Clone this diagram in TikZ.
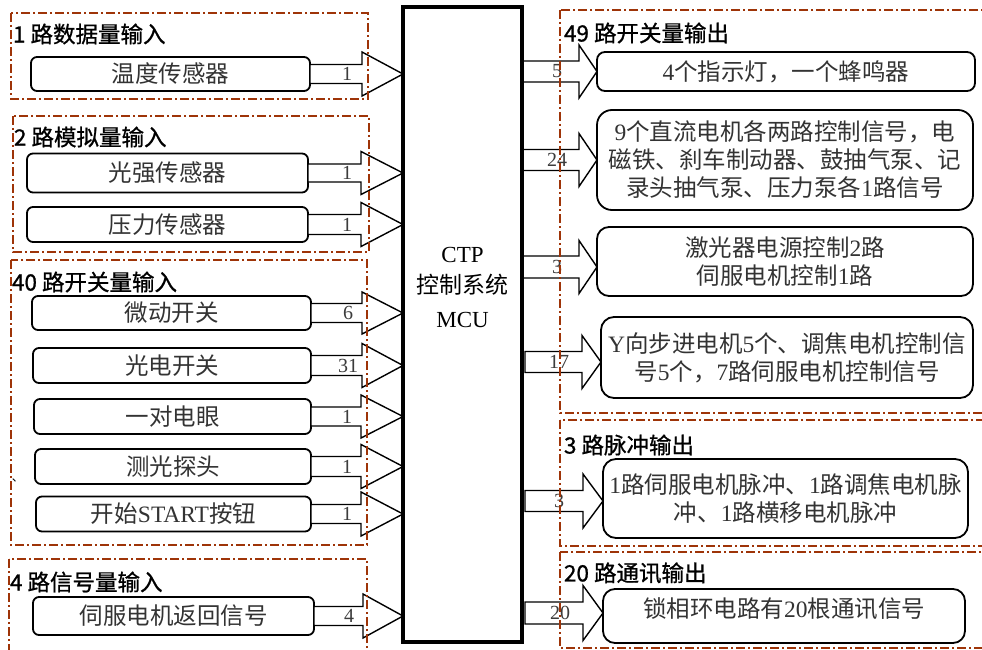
\documentclass[tikz,border=0pt]{standalone}
\usepackage{fontspec}
\setmainfont{Noto Sans CJK SC}
\newfontfamily\hei[FakeBold=0.9]{Noto Sans CJK SC}
\newfontfamily\tm{Liberation Serif}
\usetikzlibrary{calc}
\definecolor{grp}{RGB}{158,52,8}
\definecolor{lblc}{RGB}{60,60,60}
\newcommand\T[1]{{\tm #1}}
\newcommand\blk[8]{%
  \draw[blkarrow] let \p1=#1, \p2=#2 in
    (\x1,\y2+#3) -- (\x2-#5,\y2+#3) -- (\x2-#5,\y2+#4) -- (\x2,\y2)
    -- (\x2-#5,\y2-#4) -- (\x2-#5,\y2-#3) -- (\x1,\y2-#3) -- cycle
    (\x2-#6,\y2) node[lbl] (#7) {#8};}
\begin{document}
\begin{tikzpicture}[x=1pt,y=-1pt,
  every node/.style={outer sep=0pt},
  grpbox/.style={draw=grp, line width=1.6pt, dash pattern=on 9pt off 3pt on 2pt off 3pt},
  ttl/.style={anchor=west, inner sep=0pt, font=\hei\fontsize{22.5}{24}\selectfont},
  inbox/.style={draw, line width=1.8pt, rounded corners=6pt, inner sep=0pt,
    font=\fontsize{23.5}{28}\selectfont, text=black!80, align=center},
  outbox/.style={inbox, rounded corners=12pt},
  blkarrow/.style={draw, line width=1.4pt, fill=white, line join=miter},
  lbl/.style={inner sep=0pt, font=\tm\fontsize{20}{20}\selectfont, text=lblc},
  mculine/.style={draw, line width=3.5pt}
]
\clip (0,0) rectangle (982,650);
\fill[white] (0,0) rectangle (982,650);

% central controller (outline drawn later, over the arrow tips)
\node[minimum width=119, minimum height=635, inner sep=0pt] (mcu) at (462.5,324.5) {};

% input boxes
\node[inbox, minimum width=279, minimum height=34] (t1) at (170.5,74) {温度传感器};
\node[inbox, minimum width=281, minimum height=39] (t2) at (167.5,173) {光强传感器};
\node[inbox, minimum width=281, minimum height=35] (t3) at (167.5,224.5) {压力传感器};
\node[inbox, minimum width=279, minimum height=34] (t4) at (171.5,313) {微动开关};
\node[inbox, minimum width=278, minimum height=35] (t5) at (172,365.5) {光电开关};
\node[inbox, minimum width=277, minimum height=35] (t6) at (172.5,416.5) {一对电眼};
\node[inbox, minimum width=276, minimum height=35] (t7) at (173,466.5) {测光探头};
\node[inbox, minimum width=275, minimum height=35] (t8) at (173.5,514) {开始\T{START}按钮};
\node[inbox, minimum width=281, minimum height=38] (t9) at (173.5,616) {伺服电机返回信号};

% output boxes
\node[outbox, rounded corners=8pt, minimum width=378, minimum height=39] (r1) at (786,71.5) {\T{4}个指示灯，一个蜂鸣器};
\node[outbox, rounded corners=15pt, minimum width=376, minimum height=100] (r2) at (785,160)
  {\T{9}个直流电机各两路控制信号，电\\磁铁、刹车制动器、鼓抽气泵、记\\录头抽气泵、压力泵各\T{1}路信号};
\node[outbox, minimum width=376, minimum height=69] (r3) at (785,261.5)
  {\raisebox{-2pt}[0.8em][0.2em]{激光器电源控制\T{2}路}\\\raisebox{-2pt}[0.8em][0.2em]{伺服电机控制\T{1}路}};
\node[outbox, rounded corners=13pt, minimum width=372, minimum height=81] (r4) at (787,357.5)
  {\T{Y}向步进电机\T{5}个、调焦电机控制信\\号\T{5}个，\T{7}路伺服电机控制信号};
\node[outbox, rounded corners=13pt, minimum width=365, minimum height=79] (r5) at (785.5,498.5)
  {\T{1}路伺服电机脉冲、\T{1}路调焦电机脉\\冲、\T{1}路横移电机脉冲};
\node[outbox, minimum width=362, minimum height=54] (r6) at (784,616)
  {\raisebox{6pt}[0.8em][0.2em]{锁相环电路有\T{20}根通讯信号}};

% input arrows
\blk{(t1.east)}{(t1.east -| mcu.west)}{9.5pt}{22pt}{41pt}{56pt}{l1}{1}
\blk{(t2.east)}{(t2.east -| mcu.west)}{9pt}{21.5pt}{42pt}{56pt}{l2}{1}
\blk{(t3.east)}{(t3.east -| mcu.west)}{10pt}{22pt}{42pt}{56pt}{l3}{1}
\blk{(t4.east)}{(t4.east -| mcu.west)}{9.5pt}{21pt}{41pt}{55pt}{l4}{6}
\blk{(t5.east)}{(t5.east -| mcu.west)}{10pt}{22pt}{41pt}{55pt}{l5}{31}
\blk{(t6.east)}{(t6.east -| mcu.west)}{9.5pt}{21.5pt}{42pt}{56pt}{l6}{1}
\blk{(t7.east)}{(t7.east -| mcu.west)}{10pt}{22pt}{42pt}{56pt}{l7}{1}
\blk{(t8.east)}{(t8.east -| mcu.west)}{9.5pt}{22pt}{42pt}{56pt}{l8}{1}
\blk{(t9.east)}{(t9.east -| mcu.west)}{9.5pt}{22pt}{40pt}{54pt}{l9}{4}

% output arrows
\blk{(mcu.east)}{(r1.west)}{10.5pt}{26.5pt}{18pt}{40pt}{o1}{5}
\blk{(mcu.east)}{(r2.west)}{10.5pt}{26.5pt}{18pt}{40pt}{o2}{24}
\blk{(mcu.east)}{($(r3.west)+(0,5.5)$)}{11pt}{26.5pt}{18pt}{40pt}{o3}{3}
\blk{($(mcu.east)+(3,0)$)}{($(r4.west)+(0,4.5)$)}{10.5pt}{26.5pt}{19pt}{42pt}{o4}{17}
\blk{($(mcu.east)+(3,0)$)}{($(r5.west)+(0,2.5)$)}{10.5pt}{27pt}{20pt}{44pt}{o5}{3}
\blk{($(mcu.east)+(3,0)$)}{($(r6.west)+(0,-3)$)}{11pt}{27.5pt}{20pt}{43pt}{o6}{20}

% controller outline and text
\draw[mculine] (mcu.north west) rectangle (mcu.south east);
\node[align=center, inner sep=0pt, font=\fontsize{23}{31}\selectfont] (mcut) at (462.5,287)
  {\T{CTP}\\控制系统\\[3pt]\T{MCU}};

% groups
\draw[grpbox] (11,13) rectangle (368,99);
\draw[grpbox] (13,116) rectangle (369,252);
\draw[grpbox] (11,260) rectangle (367,545);
\draw[grpbox] (9,559) rectangle (367,660);
\draw[grpbox] (560,10) rectangle (995,413);
\draw[grpbox] (560,420) rectangle (995,546);
\draw[grpbox] (560,552) rectangle (995,648);

\node[ttl] (g1) at (13,34) {1 路数据量输入};
\node[ttl] (g2) at (14,137) {2 路模拟量输入};
\node[ttl] (g3) at (12,282) {40 路开关量输入};
\node[ttl] (g4) at (10,582) {4 路信号量输入};
\node[ttl] (g5) at (564,33) {49 路开关量输出};
\node[ttl] (g6) at (564,445) {3 路脉冲输出};
\node[ttl] (g7) at (564,573) {20 路通讯输出};

\node[inner sep=0pt, font=\fontsize{12}{12}\selectfont] (stray) at (18,480) {、};
\end{tikzpicture}
\end{document}
